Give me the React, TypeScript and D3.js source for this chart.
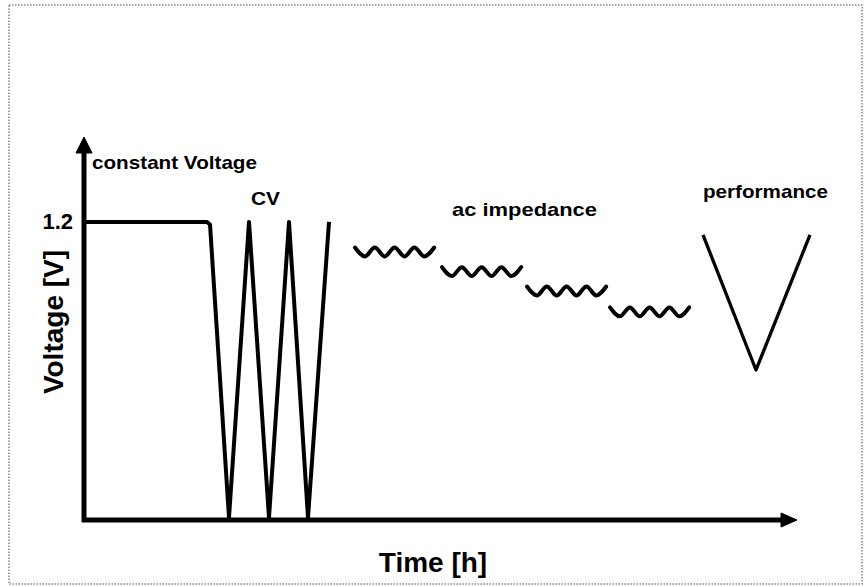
import React from "react";
import * as d3 from "d3";

// time in arbitrary hours, voltage in V (schematic test protocol)
const cvTime = [0, 12.3, 12.6, 14.5, 16.5, 18.5, 20.5, 22.4, 24.5];
const cvVolt = [1.2, 1.2, 1.19, 0.01, 1.2, 0.01, 1.2, 0.01, 1.2];

// ac impedance blocks: start time and mean voltage of each ripple
const eisStart = [27.1, 35.8, 44.3, 52.6];
const eisLevel = [1.079, 1.0, 0.922, 0.838];
const rippleShape = [1, -1, 1, -1, 1, -1, 1, -1, 1];
const rippleStep = 0.99;
const rippleAmp = 0.018;

// performance (polarisation) sweep
const perfTime = [61.9, 67.2, 72.6];
const perfVolt = [1.148, 0.604, 1.148];

const yTicks = [1.2];

const labels = [
  { text: "constant Voltage", t: 0.8, v: 1.413, len: 165 },
  { text: "CV", t: 16.7, v: 1.268, len: 29 },
  { text: "ac impedance", t: 36.8, v: 1.224, len: 145 },
  { text: "performance", t: 61.9, v: 1.297, len: 125 },
];

const W = 865;
const H = 587;
const font = "'Liberation Sans', Arial, sans-serif";

export default function App() {
  const x = d3.scaleLinear().domain([0, 71.3]).range([84, 797]);
  const y = d3.scaleLinear().domain([0, 1.53]).range([520, 140]);

  const line = d3
    .line<[number, number]>()
    .x((d) => x(d[0]))
    .y((d) => y(d[1]));

  const smooth = d3
    .line<[number, number]>()
    .x((d) => x(d[0]))
    .y((d) => y(d[1]))
    .curve(d3.curveMonotoneX);

  const cvPts = cvTime.map((t, i) => [t, cvVolt[i]] as [number, number]);
  const perfPts = perfTime.map((t, i) => [t, perfVolt[i]] as [number, number]);

  const ripples = eisStart.map((t0, k) =>
    rippleShape.map((s, i) => [t0 + i * rippleStep, eisLevel[k] + s * rippleAmp] as [number, number])
  );

  const x0 = x(0);
  const y0 = y(0);
  const xEnd = x.range()[1];
  const yEnd = y.range()[1];

  return (
    <svg
      width={W}
      height={H}
      style={{ position: "absolute", left: 0, top: 0, background: "#fff" }}
    >
      {/* scanned frame */}
      <rect
        x={9}
        y={5}
        width={853}
        height={579}
        fill="none"
        stroke="#888"
        strokeWidth={1.5}
        strokeDasharray="1.5,1.5"
      />

      {/* axes */}
      <g fill="#000" stroke="#000">
        <line x1={x0} y1={y0 + 2} x2={x0} y2={yEnd + 12} strokeWidth={5} />
        <path d={`M${x0},${yEnd - 3} L${x0 - 8},${yEnd + 13} L${x0 + 8},${yEnd + 13} Z`} strokeWidth={1} />
        <line x1={x0 - 2} y1={y0} x2={xEnd - 12} y2={y0} strokeWidth={5} />
        <path d={`M${xEnd},${y0} L${xEnd - 16},${y0 - 7} L${xEnd - 16},${y0 + 7} Z`} strokeWidth={1} />
      </g>

      {yTicks.map((v) => (
        <text
          key={v}
          x={x0 - 11}
          y={y(v) + 7.5}
          textAnchor="end"
          fontFamily={font}
          fontWeight="bold"
          fontSize={22}
        >
          {v.toFixed(1)}
        </text>
      ))}

      {/* constant voltage hold + CV cycles */}
      <path d={line(cvPts) || ""} fill="none" stroke="#000" strokeWidth={4} strokeLinejoin="round" />

      {/* ac impedance ripples */}
      {ripples.map((r, i) => (
        <path
          key={i}
          d={smooth(r) || ""}
          fill="none"
          stroke="#000"
          strokeWidth={4}
          strokeLinecap="round"
        />
      ))}

      {/* performance sweep */}
      <path d={line(perfPts) || ""} fill="none" stroke="#000" strokeWidth={3.3} strokeLinejoin="round" />

      {labels.map((l) => (
        <text
          key={l.text}
          x={x(l.t)}
          y={y(l.v)}
          fontFamily={font}
          fontWeight="bold"
          fontSize={19}
          textLength={l.len}
          lengthAdjust="spacingAndGlyphs"
        >
          {l.text}
        </text>
      ))}

      {/* axis titles */}
      <text
        transform={`translate(63,322) rotate(-90)`}
        textAnchor="middle"
        fontFamily={font}
        fontWeight="bold"
        fontSize={28}
      >
        Voltage [V]
      </text>
      <text x={433} y={572} textAnchor="middle" fontFamily={font} fontWeight="bold" fontSize={28}>
        Time [h]
      </text>
    </svg>
  );
}
